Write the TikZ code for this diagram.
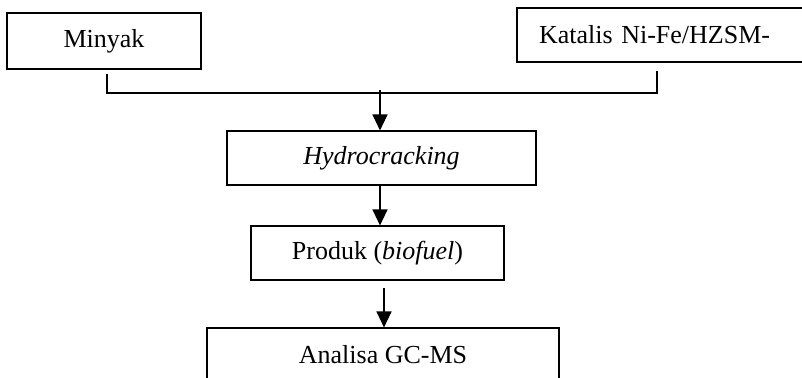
\documentclass[tikz,border=0pt]{standalone}
\usepackage{fontspec}
\setmainfont{Liberation Serif}
\usetikzlibrary{arrows.meta}
\begin{document}
\begin{tikzpicture}[x=0.5pt,y=-0.5pt,
  box/.style={draw,line width=0.55pt,inner sep=0pt,font=\fontsize{13pt}{15pt}\selectfont},
  conn/.style={line width=0.6pt},
  arr/.style={line width=0.6pt,-{Triangle[length=8pt,width=7.5pt]}}]
\useasboundingbox (0,0) rectangle (802,378);
\clip (0,0) rectangle (802,378);
\node[box,minimum width=97pt,minimum height=28pt] (min) at (104,41) {Minyak};
\node[box,minimum height=27pt,text width=134.5pt,inner xsep=11pt,align=left] (kat) at (673.5,35) {Katalis Ni-Fe/HZSM-};
\node[box,minimum width=154.5pt,minimum height=27pt] (hyd) at (381.5,158) {\textit{Hydrocracking}};
\node[box,minimum width=126.5pt,minimum height=27pt] (pro) at (377.5,253) {Produk (\textit{biofuel})};
\node[box,minimum width=176pt,minimum height=27pt] (ana) at (383,355) {Analisa GC-MS};
\coordinate (jL) at (107,93);
\coordinate (jR) at (657,93);
\coordinate (a1) at (380,90);
\coordinate (a2) at (384,288);
\draw[conn] ([yshift=-2pt]min.south -| jL) -- (jL) -- (jR) -- ([yshift=-4pt]kat.south -| jR);
\draw[arr] (a1) -- (a1 |- hyd.north);
\draw[arr] (hyd.south -| a1) -- (pro.north -| a1);
\draw[arr] (a2) -- (a2 |- ana.north);
\end{tikzpicture}
\end{document}
